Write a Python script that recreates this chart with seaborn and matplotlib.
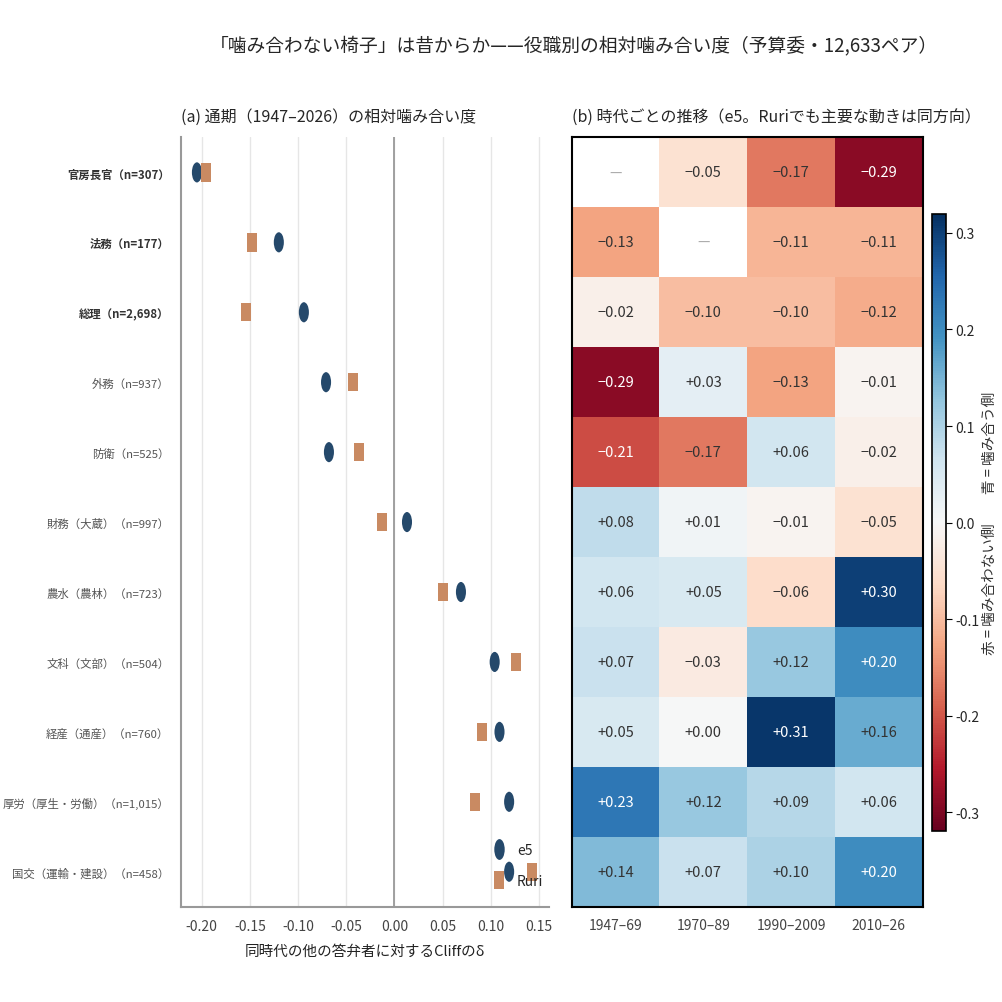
import numpy as np
import pandas as pd
import matplotlib
matplotlib.use("Agg")
import matplotlib.pyplot as plt
from matplotlib.path import Path
from matplotlib.transforms import Affine2D
from matplotlib.lines import Line2D
import seaborn as sns

# --- data ---
roles = ["官房長官", "法務", "総理", "外務", "防衛", "財務（大蔵）", "農水（農林）",
         "文科（文部）", "経産（通産）", "厚労（厚生・労働）", "国交（運輸・建設）"]
n_pairs = [307, 177, 2698, 937, 525, 997, 723, 504, 760, 1015, 458]
n_bold = 3  # first rows are drawn in bold

e5_delta = [-0.205, -0.120, -0.094, -0.071, -0.068, 0.013, 0.069, 0.104, 0.109, 0.119, 0.119]
ruri_delta = [-0.196, -0.148, -0.154, -0.043, -0.037, -0.013, 0.050, 0.126, 0.091, 0.084, 0.143]

eras = ["1947–69", "1970–89", "1990–2009", "2010–26"]
era_delta = [
    [np.nan, -0.05, -0.17, -0.29],
    [-0.13, np.nan, -0.11, -0.11],
    [-0.02, -0.10, -0.10, -0.12],
    [-0.29, 0.03, -0.13, -0.01],
    [-0.21, -0.17, 0.06, -0.02],
    [0.08, 0.01, -0.01, -0.05],
    [0.06, 0.05, -0.06, 0.30],
    [0.07, -0.03, 0.12, 0.20],
    [0.05, 0.00, 0.31, 0.16],
    [0.23, 0.12, 0.09, 0.06],
    [0.14, 0.07, 0.10, 0.20],
]

cbar_ticks = [-0.3, -0.2, -0.1, 0.0, 0.1, 0.2, 0.3]
x_ticks = [-0.20, -0.15, -0.10, -0.05, 0.00, 0.05, 0.10, 0.15]

navy = "#25496b"
tan = "#c98a62"

sns.set_style("white")
plt.rcParams["font.family"] = ["Noto Sans CJK JP", "DejaVu Sans"]
plt.rcParams["axes.unicode_minus"] = False

labels = [f"{r}（n={n:,}）" for r, n in zip(roles, n_pairs)]

long_df = pd.DataFrame({
    "label": labels * 2,
    "delta": e5_delta + ruri_delta,
    "model": ["e5"] * len(labels) + ["Ruri"] * len(labels),
})
long_df["ypos"] = long_df["label"].map({lab: i for i, lab in enumerate(labels)})

# tall markers, as in the reference
ellipse = Path.unit_circle().transformed(Affine2D().scale(0.5, 1.0))
rect = Path([(-0.55, -1), (0.55, -1), (0.55, 1), (-0.55, 1), (-0.55, -1)],
            [Path.MOVETO, Path.LINETO, Path.LINETO, Path.LINETO, Path.CLOSEPOLY])

fig = plt.figure(figsize=(10.03, 10.03), dpi=100)
ax = fig.add_axes([0.180, 0.095, 0.367, 0.767])
axh = fig.add_axes([0.570, 0.095, 0.350, 0.767])
cax = fig.add_axes([0.929, 0.170, 0.014, 0.616])

# --- (a) dot plot ---
for xt in x_ticks:
    ax.axvline(xt, color="#e6e6e6", lw=1, zorder=0)
ax.axvline(0, color="#999999", lw=1.3, zorder=1)

sns.scatterplot(data=long_df, x="delta", y="ypos", hue="model", style="model",
                palette={"e5": navy, "Ruri": tan},
                markers={"e5": ellipse, "Ruri": rect},
                size="model", sizes={"e5": 210, "Ruri": 175},
                linewidth=0, legend=False, ax=ax, zorder=3)

ax.set_ylim(len(labels) - 0.5, -0.5)
ax.set_xlim(-0.222, 0.16)
ax.set_yticks(range(len(labels)))
ax.set_yticklabels(labels, fontsize=8.2)
for i, t in enumerate(ax.get_yticklabels()):
    if i < n_bold:
        t.set_fontweight("bold")
        t.set_color("#333333")
    else:
        t.set_color("#555555")
ax.set_xticks(x_ticks)
ax.set_xticklabels([f"{v:.2f}" for v in x_ticks], fontsize=10, color="#444444")
ax.tick_params(axis="y", length=4, width=1.2, color="#333333", pad=4)
ax.tick_params(axis="x", length=3, color="#999999", pad=6)
ax.set_xlabel("同時代の他の答弁者に対するCliffのδ", fontsize=10.5, color="#222222", labelpad=8)
ax.set_ylabel("")
for s in ["top", "right"]:
    ax.spines[s].set_visible(False)
for s in ["left", "bottom"]:
    ax.spines[s].set_color("#999999")
    ax.spines[s].set_linewidth(1.5)
ax.set_title("(a) 通期（1947–2026）の相対噛み合い度", loc="left", fontsize=11.5, pad=12)

handles = [Line2D([], [], ls="", marker=ellipse, markersize=15, color=navy, markeredgewidth=0),
           Line2D([], [], ls="", marker=rect, markersize=13, color=tan, markeredgewidth=0)]
ax.legend(handles, ["e5", "Ruri"], loc="lower right", frameon=False, fontsize=10,
          handlelength=1.0, handletextpad=0.8, labelspacing=1.2,
          borderaxespad=0.3, bbox_to_anchor=(1.012, 0.012))

# --- (b) heatmap ---
mat = pd.DataFrame(era_delta, index=roles, columns=eras)
annot = mat.map(lambda v: "" if np.isnan(v) else f"{v:+.2f}".replace("-", "−"))
sns.heatmap(mat, ax=axh, cmap="RdBu", vmin=-0.32, vmax=0.32, center=0,
            annot=annot, fmt="", annot_kws={"fontsize": 10.5},
            cbar_ax=cax, cbar_kws={"ticks": cbar_ticks}, linewidths=0)

vals = [v for row in era_delta for v in row if not np.isnan(v)]
for txt, v in zip(axh.texts, vals):
    txt.set_color("white" if abs(v) >= 0.18 else "#333333")
for i, row in enumerate(era_delta):
    for j, v in enumerate(row):
        if np.isnan(v):
            axh.text(j + 0.5, i + 0.5, "—", ha="center", va="center",
                     fontsize=10, color="#aaaaaa")

axh.set_yticks([])
axh.set_xticklabels(eras, rotation=0, fontsize=10, color="#444444")
axh.tick_params(axis="x", length=0, pad=8)
axh.set_xlabel("")
axh.set_ylabel("")
for s in axh.spines.values():
    s.set_visible(True)
    s.set_color("black")
    s.set_linewidth(1.5)
axh.set_title("(b) 時代ごとの推移（e5。Ruriでも主要な動きは同方向）", loc="left",
              fontsize=11.5, pad=12)

cbar = axh.collections[0].colorbar
cbar.outline.set_edgecolor("black")
cbar.outline.set_linewidth(1.2)
cbar.ax.tick_params(labelsize=10, length=4, color="black", pad=3)
cbar.ax.set_yticklabels([f"{t:.1f}" for t in cbar_ticks])
cbar.ax.set_ylabel("赤 = 噛み合わない側　　青 = 噛み合う側", fontsize=10.5,
                   color="#333333", labelpad=2)

fig.suptitle("「噛み合わない椅子」は昔からか——役職別の相対噛み合い度（予算委・12,633ペア）",
             x=0.572, y=0.965, fontsize=13.5)

fig.savefig("out.png", dpi=100)
